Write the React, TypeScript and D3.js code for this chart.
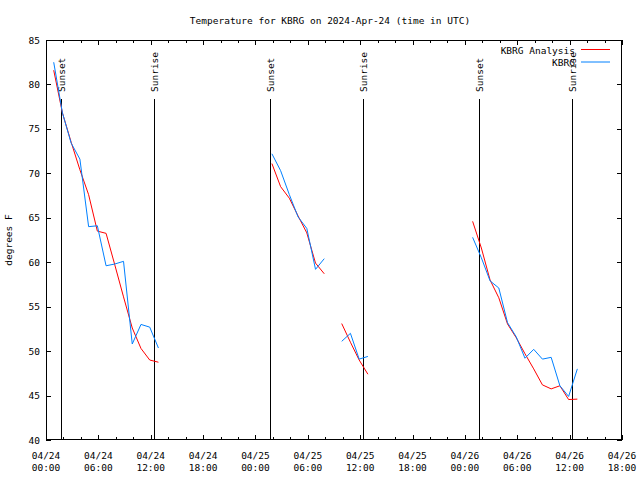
import React from "react";
import * as d3 from "d3";

// Hours after 2024-04-24 00:00 UTC (values observed at HH:53)
const obsHours = [
  0, 1, 2, 3, 4, 5, 6, 7, 8, 9, 10, 11, 12,
  25, 26, 27, 28, 29, 30, 31,
  33, 34, 35, 36,
  48, 49, 50, 51, 52, 53, 54, 55, 56, 57, 58, 59, 60,
];
const obsMinute = 53;

const analysisTemps = [
  81.6, 76.8, 73.5, 70.4, 67.6, 63.5, 63.25, 59.7, 56.1, 52.6, 50.3, 49.0, 48.75,
  71.1, 68.5, 67.2, 65.2, 63.3, 59.9, 58.7,
  53.1, 51.0, 49.0, 47.4,
  64.6, 61.6, 58.0, 56.0, 53.05, 51.5, 49.7, 48.0, 46.2, 45.75, 46.1, 44.55, 44.6,
];

const stationTemps = [
  82.5, 76.8, 73.4, 71.6, 64.0, 64.1, 59.6, 59.8, 60.1, 50.8, 53.0, 52.7, 50.35,
  72.2, 70.3, 67.6, 65.1, 63.8, 59.2, 60.4,
  51.1, 52.0, 49.1, 49.4,
  62.8, 60.5, 57.9, 57.1, 53.2, 51.6, 49.2, 50.2, 49.1, 49.3, 46.1, 44.9, 48.0,
];

const sunEventHours = [1.75, 12.42, 25.67, 36.37, 49.65, 60.32];
const sunEventLabels = ["Sunset", "Sunrise", "Sunset", "Sunrise", "Sunset", "Sunrise"];

const yTicks = [40, 45, 50, 55, 60, 65, 70, 75, 80, 85];
const seriesNames = ["KBRG Analysis", "KBRG"];
const seriesColors = ["#ff0000", "#0080ff"];

const titleText = "Temperature for KBRG on 2024-Apr-24 (time in UTC)";
const yLabel = "degrees F";

const W = 640;
const H = 480;
const M = { left: 46, right: 622, top: 40, bottom: 440 };
const FONT = "'DejaVu Sans Mono', 'Liberation Mono', monospace";
const FS = 9.5;

const t0 = Date.UTC(2024, 3, 24, 0, 0);
const hourToDate = (h: number) => new Date(t0 + h * 3600 * 1000);

export default function App() {
  const x = d3
    .scaleUtc()
    .domain([hourToDate(0), hourToDate(66)])
    .range([M.left, M.right]);
  const y = d3.scaleLinear().domain([40, 85]).range([M.bottom, M.top]);

  const fmtDate = d3.utcFormat("%m/%d");
  const fmtTime = d3.utcFormat("%H:%M");

  const majorTicks = d3.utcHour.every(6)!.range(hourToDate(0), hourToDate(66.01));
  const minorTicks = d3.utcHour.every(2)!.range(hourToDate(0), hourToDate(66.01));

  // split into segments where gap > 1.5 h
  const makeSegments = (vals: number[]) => {
    const segs: { t: Date; v: number }[][] = [];
    let cur: { t: Date; v: number }[] = [];
    obsHours.forEach((h, i) => {
      if (i > 0 && h - obsHours[i - 1] > 1.5) {
        segs.push(cur);
        cur = [];
      }
      cur.push({ t: hourToDate(h + obsMinute / 60), v: vals[i] });
    });
    segs.push(cur);
    return segs;
  };

  const line = d3
    .line<{ t: Date; v: number }>()
    .x((d) => x(d.t))
    .y((d) => y(d.v));

  const series = [analysisTemps, stationTemps];

  const px = (v: number) => Math.round(v) + 0.5;

  return (
    <svg width={W} height={H} style={{ display: "block", position: "absolute", left: 0, top: 0, background: "#fff" }}>
      <rect x={0} y={0} width={W} height={H} fill="#fff" />
      <text x={330} y={23.5} textAnchor="middle" fontFamily={FONT} fontSize={FS} fill="#000">
        {titleText}
      </text>

      {/* y ticks */}
      {yTicks.map((t) => (
        <g key={"y" + t}>
          <line x1={M.left} x2={M.left + 5} y1={px(y(t))} y2={px(y(t))} stroke="#000" />
          <line x1={M.right} x2={M.right - 5} y1={px(y(t))} y2={px(y(t))} stroke="#000" />
          <text x={40} y={y(t) + 3.5} textAnchor="end" fontFamily={FONT} fontSize={FS} fill="#000">
            {t}
          </text>
        </g>
      ))}

      {/* x ticks */}
      {minorTicks.map((t, i) => (
        <g key={"xm" + i}>
          <line x1={px(x(t))} x2={px(x(t))} y1={M.bottom} y2={M.bottom - 3} stroke="#000" />
          <line x1={px(x(t))} x2={px(x(t))} y1={M.top} y2={M.top + 3} stroke="#000" />
        </g>
      ))}
      {majorTicks.map((t, i) => (
        <g key={"xM" + i}>
          <line x1={px(x(t))} x2={px(x(t))} y1={M.bottom} y2={M.bottom - 5} stroke="#000" />
          <line x1={px(x(t))} x2={px(x(t))} y1={M.top} y2={M.top + 5} stroke="#000" />
          <text x={x(t)} y={458.5} textAnchor="middle" fontFamily={FONT} fontSize={FS} fill="#000">
            {fmtDate(t)}
          </text>
          <text x={x(t)} y={471} textAnchor="middle" fontFamily={FONT} fontSize={FS} fill="#000">
            {fmtTime(t)}
          </text>
        </g>
      ))}

      {/* y label */}
      <text
        transform={`translate(12,240) rotate(-90)`}
        textAnchor="middle"
        fontFamily={FONT}
        fontSize={FS}
        fill="#000"
      >
        {yLabel}
      </text>

      {/* sun events */}
      {sunEventHours.map((h, i) => {
        const xx = px(x(hourToDate(h)));
        return (
          <g key={"sun" + i}>
            <line x1={xx} x2={xx} y1={99} y2={M.bottom} stroke="#000" />
            <text
              transform={`translate(${xx + 3.5},92) rotate(-90)`}
              textAnchor="start"
              fontFamily={FONT}
              fontSize={FS}
              fill="#000"
            >
              {sunEventLabels[i]}
            </text>
          </g>
        );
      })}

      {/* data lines */}
      {series.map((vals, si) =>
        makeSegments(vals).map((seg, k) => (
          <path
            key={"s" + si + "-" + k}
            d={line(seg) || ""}
            fill="none"
            stroke={seriesColors[si]}
            strokeWidth={1}
          />
        ))
      )}

      {/* border */}
      <rect
        x={M.left + 0.5}
        y={M.top + 0.5}
        width={M.right - M.left - 1}
        height={M.bottom - M.top - 1}
        fill="none"
        stroke="#000"
      />

      {/* legend */}
      {seriesNames.map((name, i) => (
        <g key={"leg" + i}>
          <text x={575} y={53.5 + i * 12.5} textAnchor="end" fontFamily={FONT} fontSize={FS} fill="#000">
            {name}
          </text>
          <line x1={581} x2={610} y1={49.5 + i * 12.5} y2={49.5 + i * 12.5} stroke={seriesColors[i]} />
        </g>
      ))}
    </svg>
  );
}
